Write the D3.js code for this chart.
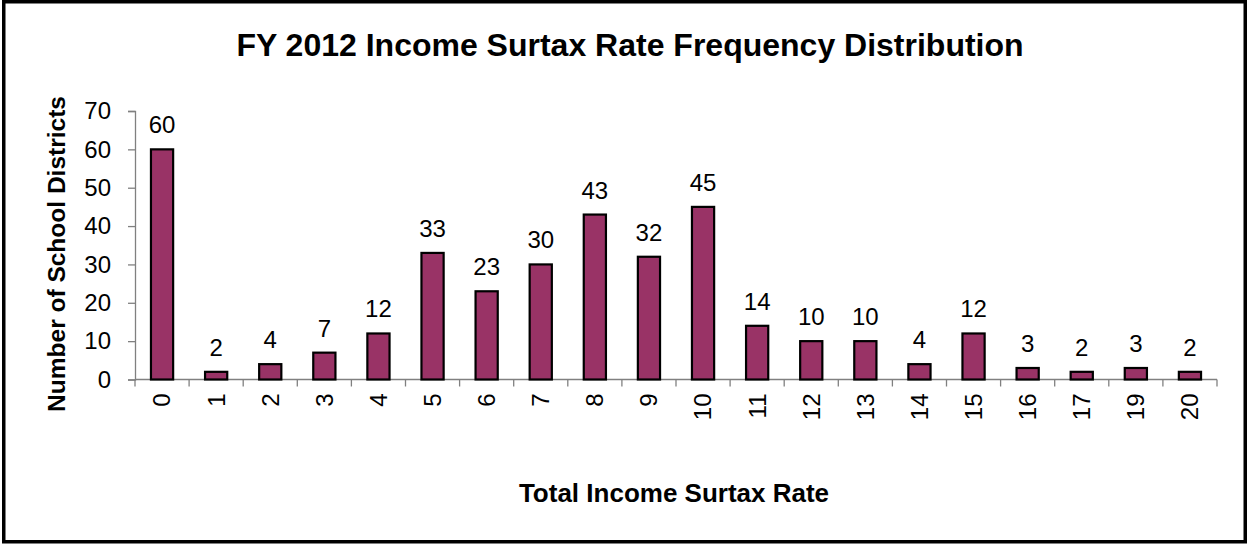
<!DOCTYPE html>
<html>
<head>
<meta charset="utf-8">
<script src="https://cdn.jsdelivr.net/npm/d3@7"></script>
<style>
  html, body { margin: 0; padding: 0; background: #fff; }
  svg { display: block; font-family: "Liberation Sans", Arial, sans-serif; }
</style>
</head>
<body>
<svg id="chart" width="1247" height="544"></svg>
<script>
// Surtax rate categories (note: no district has a rate of 18)
const rates = ["0", "1", "2", "3", "4", "5", "6", "7", "8", "9", "10",
               "11", "12", "13", "14", "15", "16", "17", "19", "20"];
// Number of school districts at each rate
const districtCounts = [60, 2, 4, 7, 12, 33, 23, 30, 43, 32, 45,
                        14, 10, 10, 4, 12, 3, 2, 3, 2];
// Value-axis ticks
const yTicks = [0, 10, 20, 30, 40, 50, 60, 70];

const svg = d3.select("#chart");
const W = 1247, H = 544;

// Outer frame
svg.append("rect")
  .attr("x", 3.75).attr("y", 1.75)
  .attr("width", W - 5.5).attr("height", H - 4)
  .attr("fill", "#fff")
  .attr("stroke", "#000")
  .attr("stroke-width", 3.5);

const plot = { left: 135, right: 1217, top: 111, bottom: 379.5 };

const x = d3.scaleBand()
  .domain(rates)
  .range([plot.left, plot.right])
  .paddingInner(0.59)
  .paddingOuter(0.295);

const y = d3.scaleLinear()
  .domain([0, 70])
  .range([plot.bottom, plot.top]);

// Title
svg.append("text")
  .attr("x", 630).attr("y", 56)
  .attr("text-anchor", "middle")
  .attr("font-weight", "bold")
  .attr("font-size", 32)
  .text("FY 2012 Income Surtax Rate Frequency Distribution");

// Y axis
const yAxis = svg.append("g")
  .attr("transform", `translate(${plot.left},0)`)
  .call(d3.axisLeft(y).tickValues(yTicks).tickSize(7).tickPadding(17));
yAxis.select(".domain").attr("stroke", "#808080").attr("stroke-width", 1.3);
yAxis.selectAll(".tick line").attr("stroke", "#808080").attr("stroke-width", 1.3);
yAxis.selectAll(".tick text")
  .attr("font-size", 24)
  .attr("font-family", "Liberation Sans, Arial, sans-serif")
  .attr("fill", "#000");

// X axis line, with ticks on the category boundaries
const xAxisG = svg.append("g");
xAxisG.append("line")
  .attr("x1", plot.left).attr("x2", plot.right)
  .attr("y1", y(0)).attr("y2", y(0))
  .attr("stroke", "#808080").attr("stroke-width", 1.3);
const edges = rates.map((r, i) => plot.left + i * x.step()).concat([plot.right]);
xAxisG.selectAll("line.tick")
  .data(edges)
  .join("line")
  .attr("class", "tick")
  .attr("x1", d => d).attr("x2", d => d)
  .attr("y1", y(0)).attr("y2", y(0) + 7)
  .attr("stroke", "#808080").attr("stroke-width", 1.3);

// Rotated category labels, reading bottom to top
xAxisG.selectAll("text.cat")
  .data(rates)
  .join("text")
  .attr("class", "cat")
  .attr("transform", d => `translate(${x(d) + x.bandwidth() / 2},${y(0) + 14}) rotate(-90)`)
  .attr("text-anchor", "end")
  .attr("dy", "0.35em")
  .attr("font-size", 24)
  .text(d => d);

// Bars
svg.selectAll("rect.bar")
  .data(districtCounts)
  .join("rect")
  .attr("class", "bar")
  .attr("x", (d, i) => x(rates[i]))
  .attr("width", x.bandwidth())
  .attr("y", d => y(d))
  .attr("height", d => y(0) - y(d))
  .attr("fill", "#993366")
  .attr("stroke", "#000")
  .attr("stroke-width", 2.2);

// Value labels above bars
svg.selectAll("text.val")
  .data(districtCounts)
  .join("text")
  .attr("class", "val")
  .attr("x", (d, i) => x(rates[i]) + x.bandwidth() / 2)
  .attr("y", d => y(d) - 16)
  .attr("text-anchor", "middle")
  .attr("font-size", 24)
  .text(d => d);

// Axis titles
svg.append("text")
  .attr("transform", "translate(65,254) rotate(-90)")
  .attr("text-anchor", "middle")
  .attr("font-weight", "bold")
  .attr("font-size", 24.5)
  .text("Number of School Districts");

svg.append("text")
  .attr("x", 674).attr("y", 502)
  .attr("text-anchor", "middle")
  .attr("font-weight", "bold")
  .attr("font-size", 26)
  .text("Total Income Surtax Rate");
</script>
</body>
</html>
